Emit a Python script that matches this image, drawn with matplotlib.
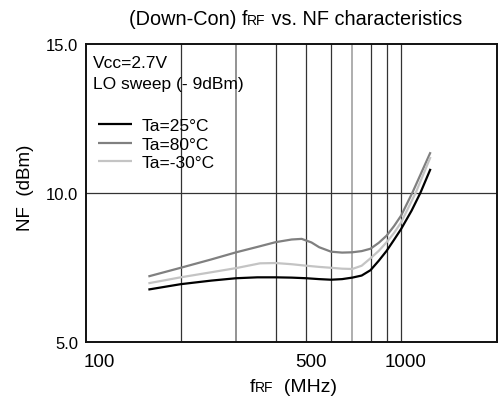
import matplotlib
matplotlib.use("Agg")
import matplotlib.pyplot as plt
import matplotlib.transforms as mtransforms
import numpy as np

plt.rcParams['font.family'] = ['Liberation Sans', 'DejaVu Sans']

# ---- data ----
freq_25 = [158, 200, 250, 300, 350, 400, 450, 500, 550, 600, 650, 700, 750, 800, 850, 900, 950, 1000, 1080, 1152, 1240]
nf_25   = [6.75, 6.93, 7.05, 7.13, 7.16, 7.16, 7.15, 7.13, 7.10, 7.08, 7.10, 7.15, 7.22, 7.40, 7.72, 8.05, 8.42, 8.78, 9.40, 10.0, 10.80]

freq_80 = [158, 200, 250, 300, 350, 400, 450, 484, 520, 550, 600, 650, 700, 750, 800, 850, 900, 950, 1000, 1086, 1240]
nf_80   = [7.19, 7.48, 7.76, 8.00, 8.18, 8.34, 8.43, 8.45, 8.33, 8.17, 8.02, 7.99, 8.00, 8.04, 8.12, 8.32, 8.56, 8.88, 9.23, 10.0, 11.36]

freq_m30 = [158, 200, 250, 300, 357, 400, 450, 500, 550, 600, 650, 700, 750, 800, 850, 900, 950, 1000, 1113, 1240]
nf_m30   = [6.96, 7.16, 7.33, 7.47, 7.63, 7.64, 7.60, 7.55, 7.51, 7.48, 7.45, 7.44, 7.55, 7.80, 8.05, 8.34, 8.65, 9.00, 10.0, 11.2]

series_labels = ['Ta=25°C', 'Ta=80°C', 'Ta=-30°C']
series_colors = ['#000000', '#808080', '#c4c4c4']

grid_x = [200, 300, 400, 500, 600, 700, 800, 900, 1000]
grid_x_colors = ['#333333', '#8a8a8a', '#333333', '#333333', '#333333', '#a8a8a8', '#333333', '#333333', '#333333']
x_ticks = [100, 500, 1000]
x_ticklabels = ['100', '500', '1000']
x_label_shift_px = [14, 5, 4]
y_ticks = [5, 10, 15]
y_ticklabels = ['5.0', '10.0', '15.0']

W, H = 498, 402
fig = plt.figure(figsize=(W / 100, H / 100), dpi=100)
ax = fig.add_axes([85.7 / W, 1 - 342.7 / H, (496.7 - 85.7) / W, (342.7 - 44.7) / H])

ax.set_xscale('log')
ax.set_xlim(100, 2010)
ax.set_ylim(5, 15)

for gx, gc in zip(grid_x, grid_x_colors):
    ax.axvline(gx, color=gc, lw=0.9 if gc == '#333333' else 1.3, zorder=1)
ax.axhline(10, color='#333333', lw=0.9, zorder=1)

for f, v, lab, c in zip([freq_25, freq_80, freq_m30], [nf_25, nf_80, nf_m30], series_labels, series_colors):
    ax.plot(f, v, color=c, lw=1.6, label=lab, zorder=3, solid_capstyle='butt')

ax.set_xticks(x_ticks)
ax.set_xticklabels(x_ticklabels)
ax.xaxis.set_minor_locator(matplotlib.ticker.NullLocator())
ax.set_yticks(y_ticks)
ax.set_yticklabels(y_ticklabels)
ax.tick_params(axis='both', length=0)
ax.tick_params(axis='x', pad=8, labelsize=13.5)
ax.tick_params(axis='y', pad=5.5, labelsize=12)
for lbl, dx in zip(ax.get_xticklabels(), x_label_shift_px):
    lbl.set_transform(lbl.get_transform() + mtransforms.ScaledTranslation(dx / 100, 0, fig.dpi_scale_trans))
for s in ax.spines.values():
    s.set_linewidth(1.4)
    s.set_color('#111111')

ax.text(93, H - 68, 'Vcc=2.7V', transform=None, fontsize=12.5, va='baseline')
ax.text(93, H - 89, 'LO sweep (- 9dBm)', transform=None, fontsize=12.5, va='baseline')

leg = ax.legend(loc='upper left', bbox_to_anchor=(98 / W, 1 - 119 / H), bbox_transform=fig.transFigure,
                frameon=False, fontsize=12.5, handlelength=1.96, handletextpad=0.58, labelspacing=0.19,
                borderaxespad=0, borderpad=0)

renderer = fig.canvas.get_renderer()

def rich(cx, baseline, parts):
    texts = []
    for s, size in parts:
        t = fig.text(0, 0, s, fontsize=size, va='baseline', ha='left', transform=None)
        texts.append(t)
    widths = [t.get_window_extent(renderer).width for t in texts]
    x = cx - sum(widths) / 2
    for t, w in zip(texts, widths):
        t.set_position((x, baseline))
        x += w

rich(295.5, H - 25, [('(Down-Con) f', 14.3), ('RF', 10), (' vs. NF characteristics', 14.3)])
rich(293.5, H - 392, [('f', 14), ('RF', 10), ('  (MHz)', 14)])
fig.text(25 / W, 1 - 188 / H, 'NF  (dBm)', rotation=90, fontsize=13.5, ha='center', va='center')

fig.savefig('out.png', dpi=100)
